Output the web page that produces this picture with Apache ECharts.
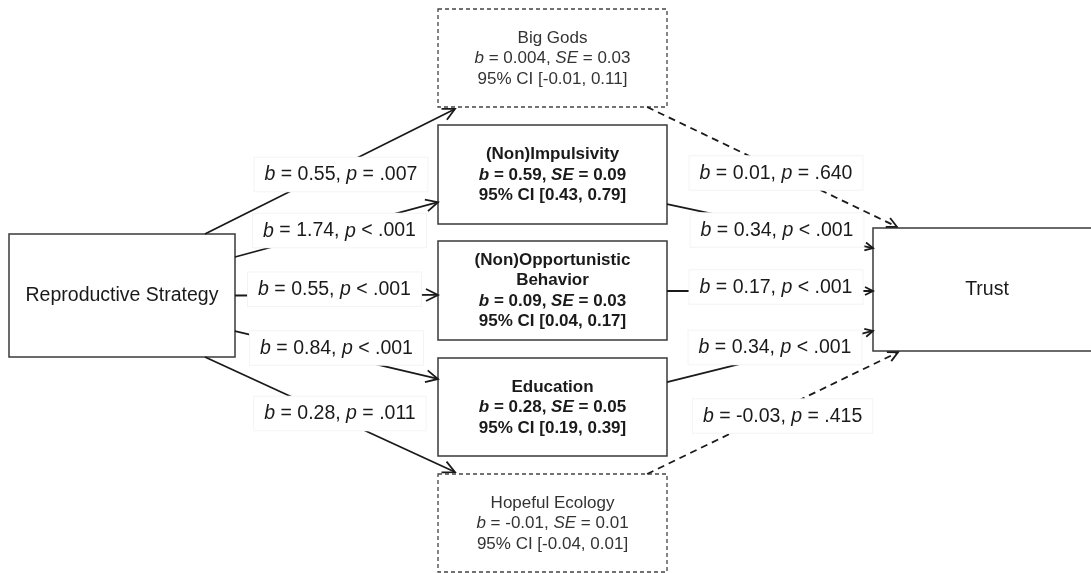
<!DOCTYPE html>
<html><head><meta charset="utf-8">
<script src="https://cdn.jsdelivr.net/npm/echarts@6/dist/echarts.min.js"></script>
<style>html,body{margin:0;padding:0;background:#fff}#chart{width:1091px;height:573px}</style>
</head><body><div id="chart"></div>
<script>
// ---------------- data ----------------
const nodeNames = ['Reproductive Strategy', 'Big Gods', '(Non)Impulsivity', '(Non)Opportunistic\nBehavior', 'Education', 'Hopeful Ecology', 'Trust'];
const indirectB  = [null, 0.004, 0.59, 0.09, 0.28, -0.01, null];
const indirectSE = [null, 0.03, 0.09, 0.03, 0.05, 0.01, null];
const ciLower    = [null, -0.01, 0.43, 0.04, 0.19, -0.04, null];
const ciUpper    = [null, 0.11, 0.79, 0.17, 0.39, 0.01, null];

// a paths: Reproductive Strategy -> mediator k
const pathA_b  = [0.55, 1.74, 0.55, 0.84, 0.28];
const pathA_op = ['=', '<', '<', '<', '='];
const pathA_p  = [0.007, 0.001, 0.001, 0.001, 0.011];
// b paths: mediator k -> Trust
const pathB_b  = [0.01, 0.34, 0.17, 0.34, -0.03];
const pathB_op = ['=', '<', '<', '<', '='];
const pathB_p  = [0.640, 0.001, 0.001, 0.001, 0.415];

// ---------------- layout (diagram geometry) ----------------
const boxLayout = [[9,234,235,357],[438,9,667,107],[438,125,667,224],[438,241,667,340],[438,358,667,456],[438,474,667,572],[873,228,1101,351]];
const aStart = [[0.867,0],[1,0.187],[1,0.5],[1,0.789],[0.867,1]];
const aEnd   = [[0.074,1.02],[0,0.78],[0,0.545],[0,0.214],[0.074,-0.02]];
const bStart = [[0.913,1],[1,0.8],[1,0.505],[1,0.245],[0.913,0]];
const bEnd   = [[0.105,-0.01],[0,0.163],[0,0.512],[0,0.837],[0.11,1.01]];
const aLabelShift = [[11,3],[3,1],[-2,-6],[0,-7],[10,-1]];
const bLabelShift = [[4,6],[7,4],[6,-4],[5,-9],[10,3]];

const FONT = "'Liberation Sans', Arial, Helvetica, sans-serif";
const fmtB = v => (v !== 0 && Math.abs(v) < 0.01) ? v.toFixed(3) : v.toFixed(2);
const fmtP = v => v.toFixed(3).replace(/^0/, '');

function anchor(i, f) {
  const b = boxLayout[i];
  return [b[0] + (b[2] - b[0]) * f[0], b[1] + (b[3] - b[1]) * f[1]];
}

const edges = [];
for (let k = 0; k < 5; k++) edges.push({from: 0, to: k + 1, s: aStart[k], t: aEnd[k], b: pathA_b[k], op: pathA_op[k], p: pathA_p[k], shift: aLabelShift[k], head: 12, headW: 6});
for (let k = 0; k < 5; k++) edges.push({from: k + 1, to: 6, s: bStart[k], t: bEnd[k], b: pathB_b[k], op: pathB_op[k], p: pathB_p[k], shift: bLabelShift[k], head: pathB_p[k] > 0.05 ? 10 : 8, headW: pathB_p[k] > 0.05 ? 5 : 4});

function richSet(size, weight, color) {
  return {
    n: {fontSize: size, fontFamily: FONT, fontWeight: weight, fill: color, lineHeight: 20.5},
    i: {fontSize: size, fontFamily: FONT, fontWeight: weight, fontStyle: 'italic', fill: color, lineHeight: 20.5}
  };
}

function nodeText(i) {
  if (indirectB[i] === null) return '{n|' + nodeNames[i] + '}';
  const title = nodeNames[i].split('\n').map(s => '{n|' + s + '}').join('\n');
  return title + '\n{i|b}{n| = ' + fmtB(indirectB[i]) + ', }{i|SE}{n| = ' + fmtB(indirectSE[i]) + '}\n' +
    '{n|95% CI [' + fmtB(ciLower[i]) + ', ' + fmtB(ciUpper[i]) + ']}';
}

const chart = echarts.init(document.getElementById('chart'), null, {renderer: 'canvas'});
chart.setOption({
  animation: false,
  backgroundColor: '#fff',
  grid: {left: 0, right: 0, top: 0, bottom: 0},
  xAxis: {type: 'value', min: 0, max: 1091, show: false},
  yAxis: {type: 'value', min: 0, max: 573, inverse: true, show: false},
  series: [
    {
      type: 'custom',
      coordinateSystem: 'cartesian2d',
      data: nodeNames.map((n, i) => [i]),
      renderItem: function (params, api) {
        const i = params.dataIndex;
        const b = boxLayout[i];
        const p0 = api.coord([b[0], b[1]]);
        const p1 = api.coord([b[2], b[3]]);
        const mediator = indirectB[i] !== null;
        const sig = mediator ? (ciLower[i] > 0 || ciUpper[i] < 0) : true;
        const size = mediator ? 17 : 19.5;
        const weight = mediator && sig ? 'bold' : 'normal';
        const color = mediator && !sig ? '#333' : '#1a1a1a';
        return {
          type: 'group',
          children: [
            {type: 'rect', shape: {x: p0[0], y: p0[1], width: p1[0] - p0[0], height: p1[1] - p0[1]},
             style: {fill: '#fff', stroke: sig ? '#3a3a3a' : '#444', lineWidth: sig ? 1.5 : 1.3, lineDash: sig ? null : [4, 3]}},
            {type: 'text', x: (p0[0] + p1[0]) / 2, y: (p0[1] + p1[1]) / 2 + (mediator ? 0.5 : 0),
             style: {text: nodeText(i), rich: richSet(size, weight, color), align: 'center', verticalAlign: 'middle',
                     fontSize: size, fontFamily: FONT, fontWeight: weight, fill: color, lineHeight: 20.5}}
          ]
        };
      }
    },
    {
      type: 'custom',
      coordinateSystem: 'cartesian2d',
      data: edges.map((e, i) => [i]),
      renderItem: function (params, api) {
        const e = edges[params.dataIndex];
        const p0 = api.coord(anchor(e.from, e.s));
        const p1 = api.coord(anchor(e.to, e.t));
        const dx = p1[0] - p0[0], dy = p1[1] - p0[1];
        const len = Math.sqrt(dx * dx + dy * dy);
        const ux = dx / len, uy = dy / len;
        const nx = -uy, ny = ux;
        const dashed = e.p > 0.05;
        const bx = p1[0] - ux * e.head, by = p1[1] - uy * e.head;
        const mid = [(p0[0] + p1[0]) / 2 + e.shift[0], (p0[1] + p1[1]) / 2 + e.shift[1]];
        const txt = '{i|b}{n| = ' + fmtB(e.b) + ', }{i|p}{n| ' + e.op + ' ' + fmtP(e.p) + '}';
        return {
          type: 'group',
          children: [
            {type: 'line', shape: {x1: p0[0], y1: p0[1], x2: p1[0], y2: p1[1]},
             style: {stroke: '#1a1a1a', lineWidth: 1.8, lineDash: dashed ? [7, 5] : null}},
            {type: 'polyline', shape: {points: [[bx + nx * e.headW, by + ny * e.headW], [p1[0], p1[1]], [bx - nx * e.headW, by - ny * e.headW]]},
             style: {stroke: '#1a1a1a', lineWidth: 1.8, fill: null}},
            {type: 'text', x: mid[0], y: mid[1],
             style: {text: txt, rich: richSet(19.5, 'normal', '#1a1a1a'), align: 'center', verticalAlign: 'middle',
                     fontSize: 19.5, fontFamily: FONT, fill: '#1a1a1a',
                     backgroundColor: '#fff', borderColor: '#f4f4f4', borderWidth: 1, padding: [7, 10, 6, 10]}}
          ]
        };
      }
    }
  ]
});
</script>
</body></html>
